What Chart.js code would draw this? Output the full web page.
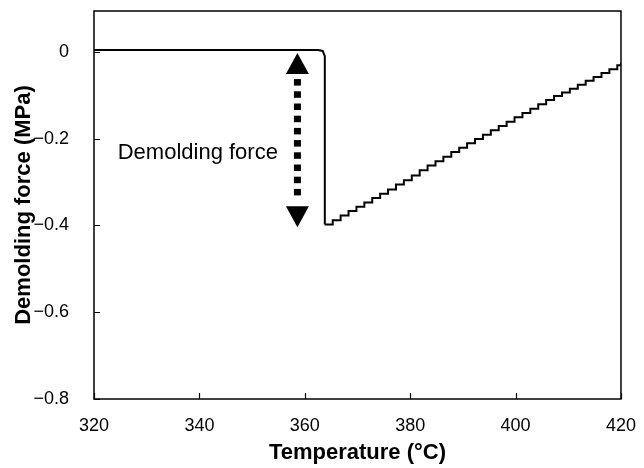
<!DOCTYPE html>
<html>
<head>
<meta charset="utf-8">
<script src="https://cdn.jsdelivr.net/npm/chart.js@4"></script>
<style>
    html, body { margin: 0; padding: 0; background: #fff; }
    #wrap { width: 644px; height: 468px; }
</style>
</head>
<body>
<div id="wrap"><canvas id="chart" width="644" height="468"></canvas></div>
<script>
const FONT = '"Liberation Sans", Arial, sans-serif';

const xTicks = [320, 340, 360, 380, 400, 420];
const yTicks = [0, -0.2, -0.4, -0.6, -0.8];

// plateau before release, then the sudden drop
const plateauTemp = [320, 335, 350, 362.5, 363.4, 363.8, 363.8];
const plateauForce = [0.004, 0.004, 0.004, 0.004, 0.002, -0.01, -0.398];

// stepped recovery after the drop
const rampTemp = [363.8, 365.3, 366.8, 368.3, 369.8, 371.3, 372.8, 374.3, 375.8, 377.3, 378.8, 380.3,
    381.8, 383.3, 384.8, 386.3, 387.8, 389.3, 390.8, 392.3, 393.8, 395.3, 396.8, 398.3, 399.8, 401.3,
    402.8, 404.3, 405.8, 407.3, 408.8, 410.3, 411.8, 413.3, 414.8, 416.3, 417.8, 419.3, 420];
const rampForce = [-0.398, -0.388, -0.377, -0.367, -0.357, -0.347, -0.337, -0.327, -0.317, -0.306, -0.296, -0.285,
    -0.273, -0.262, -0.252, -0.242, -0.231, -0.221, -0.211, -0.201, -0.191, -0.181, -0.171, -0.161, -0.151, -0.141,
    -0.131, -0.121, -0.111, -0.102, -0.094, -0.085, -0.076, -0.067, -0.058, -0.049, -0.040, -0.031, -0.026];

const arrowTemp = 358.6;
const arrowTop = -0.003;
const arrowBottom = -0.404;
const noteLabel = 'Demolding force';
const noteTemp = 324.5;
const noteForce = -0.232;

const toPoints = (xs, ys) => xs.map((x, i) => ({ x, y: ys[i] }));

const frameAndNote = {
    id: 'frameAndNote',
    afterDatasetsDraw(chart) {
        const { ctx, chartArea: a, scales: { x, y } } = chart;
        ctx.save();
        ctx.strokeStyle = '#000';
        ctx.lineWidth = 1.5;
        ctx.strokeRect(a.left, a.top, a.right - a.left, a.bottom - a.top);

        // inward tick marks
        ctx.lineWidth = 1.2;
        ctx.beginPath();
        xTicks.forEach((t) => {
            const px = Math.round(x.getPixelForValue(t)) + 0.5;
            ctx.moveTo(px, a.bottom);
            ctx.lineTo(px, a.bottom - 6);
        });
        yTicks.forEach((t) => {
            const py = Math.round(y.getPixelForValue(t)) + 0.5;
            ctx.moveTo(a.left, py);
            ctx.lineTo(a.left + 6, py);
        });
        ctx.stroke();

        // double arrow
        const ax = x.getPixelForValue(arrowTemp);
        const top = y.getPixelForValue(arrowTop);
        const bot = y.getPixelForValue(arrowBottom);
        const head = 21;
        const half = 11.5;
        ctx.fillStyle = '#000';
        ctx.beginPath();
        ctx.moveTo(ax, top);
        ctx.lineTo(ax + half, top + head);
        ctx.lineTo(ax - half, top + head);
        ctx.closePath();
        ctx.fill();
        ctx.beginPath();
        ctx.moveTo(ax, bot);
        ctx.lineTo(ax + half, bot - head);
        ctx.lineTo(ax - half, bot - head);
        ctx.closePath();
        ctx.fill();
        for (let py = top + head + 5; py + 6.5 <= bot - head - 2; py += 12.2) {
            ctx.fillRect(ax - 3.5, py, 7, 6.5);
        }

        ctx.font = '22px ' + FONT;
        ctx.textAlign = 'left';
        ctx.textBaseline = 'middle';
        ctx.fillText(noteLabel, x.getPixelForValue(noteTemp), y.getPixelForValue(noteForce));
        ctx.restore();
    },
};

new Chart(document.getElementById('chart'), {
    type: 'line',
    data: {
        datasets: [
            {
                data: toPoints(plateauTemp, plateauForce),
                borderColor: '#000',
                borderWidth: 2,
                pointRadius: 0,
                tension: 0,
            },
            {
                data: toPoints(rampTemp, rampForce),
                borderColor: '#000',
                borderWidth: 2,
                pointRadius: 0,
                stepped: 'before',
            },
        ],
    },
    options: {
        responsive: false,
        animation: false,
        layout: { padding: { top: 11, right: 18, left: 0, bottom: 0 } },
        plugins: { legend: { display: false }, tooltip: { enabled: false } },
        scales: {
            x: {
                type: 'linear',
                min: 320,
                max: 420,
                afterBuildTicks: (s) => { s.ticks = xTicks.map((v) => ({ value: v })); },
                grid: { display: false },
                border: { display: false },
                ticks: { color: '#000', font: { family: FONT, size: 18 }, padding: 8, maxRotation: 0 },
                title: {
                    display: true,
                    text: 'Temperature (°C)',
                    color: '#000',
                    font: { family: FONT, size: 22, weight: 'bold' },
                    padding: { top: 2, bottom: 2 },
                },
                afterFit: (s) => { s.height = 69; },
            },
            y: {
                type: 'linear',
                min: -0.8,
                max: 0.094,
                afterBuildTicks: (s) => { s.ticks = yTicks.map((v) => ({ value: v })); },
                grid: { display: false },
                border: { display: false },
                ticks: {
                    color: '#000',
                    font: { family: FONT, size: 18 },
                    padding: 17,
                    callback: (v) => (v === 0 ? '0' : '\u2212' + Math.abs(v).toFixed(1)),
                },
                title: {
                    display: true,
                    text: 'Demolding force (MPa)',
                    color: '#000',
                    font: { family: FONT, size: 22, weight: 'bold' },
                    padding: { top: 11, bottom: 0 },
                },
                afterFit: (s) => {
                    s.width = 94;
                    s.paddingTop = 0;
                    s.paddingBottom = 0;
                },
            },
        },
    },
    plugins: [frameAndNote],
});
</script>
</body>
</html>
